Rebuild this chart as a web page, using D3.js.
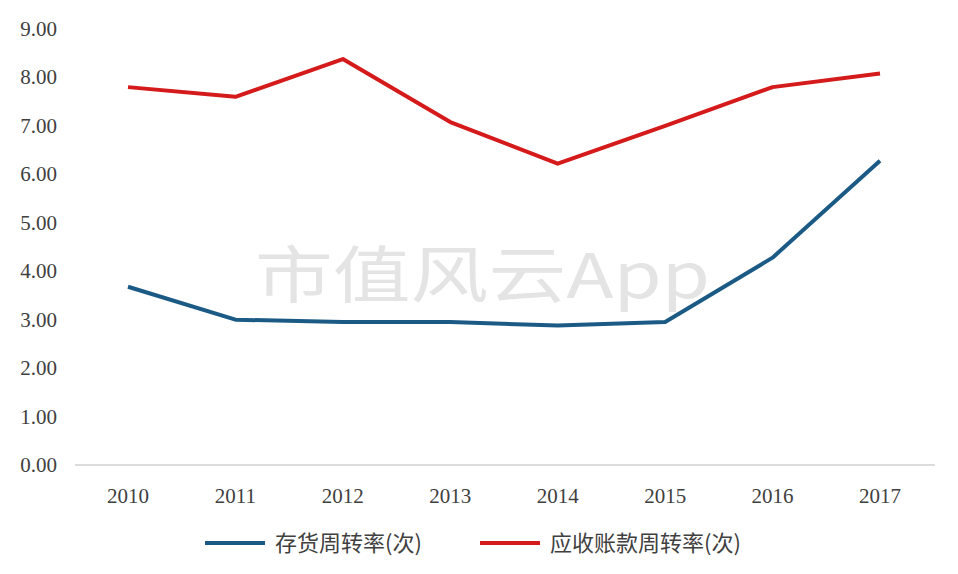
<!DOCTYPE html>
<html><head><meta charset="utf-8">
<script src="https://cdn.jsdelivr.net/npm/d3@7"></script>
<style>body{margin:0;background:#fff}</style>
</head><body><div id="chart"></div>
<script>
const years = ["2010","2011","2012","2013","2014","2015","2016","2017"];
const inventory = [3.68, 3.00, 2.95, 2.95, 2.88, 2.95, 4.28, 6.28];
const receivable = [7.80, 7.60, 8.38, 7.08, 6.22, 7.00, 7.80, 8.08];
const yTicks = [0,1,2,3,4,5,6,7,8,9];
const seriesNames = ["存货周转率(次)", "应收账款周转率(次)"];
const colors = ["#1c5a86", "#d41a1a"];

const width = 958, height = 574;
const svg = d3.select("#chart").append("svg").attr("width", width).attr("height", height);

const x = d3.scalePoint().domain(years).range([128, 880]);
const y = d3.scaleLinear().domain([0, 9]).range([465, 29]);

// watermark
svg.append("text").attr("x", 255).attr("y", 298)
  .attr("textLength", 455).attr("lengthAdjust", "spacingAndGlyphs")
  .attr("font-family", "Noto Sans CJK SC").attr("font-size", 62).attr("fill", "#e4e4e4")
  .text("市值风云App");

svg.append("line").attr("x1", 75).attr("x2", 935).attr("y1", y(0)).attr("y2", y(0))
  .attr("stroke", "#d0d0d0").attr("stroke-width", 1.5);

svg.append("g").selectAll("text").data(yTicks).join("text")
  .attr("x", 57).attr("y", d => y(d) + 7).attr("text-anchor", "end")
  .attr("font-family", "Liberation Serif").attr("font-size", 21).attr("fill", "#404040")
  .text(d => d.toFixed(2));

svg.append("g").selectAll("text").data(years).join("text")
  .attr("x", d => x(d)).attr("y", 503).attr("text-anchor", "middle")
  .attr("font-family", "Liberation Serif").attr("font-size", 21).attr("fill", "#404040")
  .text(d => d);

const line = d3.line().x((d, i) => x(years[i])).y(d => y(d));
[inventory, receivable].forEach((s, i) => {
  svg.append("path").attr("d", line(s)).attr("fill", "none")
    .attr("stroke", colors[i]).attr("stroke-width", 4).attr("stroke-linejoin", "round");
});

// legend
const lx = [205, 480];
seriesNames.forEach((n, i) => {
  svg.append("line").attr("x1", lx[i]).attr("x2", lx[i] + 60).attr("y1", 543).attr("y2", 543)
    .attr("stroke", colors[i]).attr("stroke-width", 4);
  svg.append("text").attr("x", lx[i] + 70).attr("y", 551)
    .attr("font-family", "Noto Sans CJK SC").attr("font-size", 22).attr("fill", "#404040").text(n);
});
</script></body></html>
